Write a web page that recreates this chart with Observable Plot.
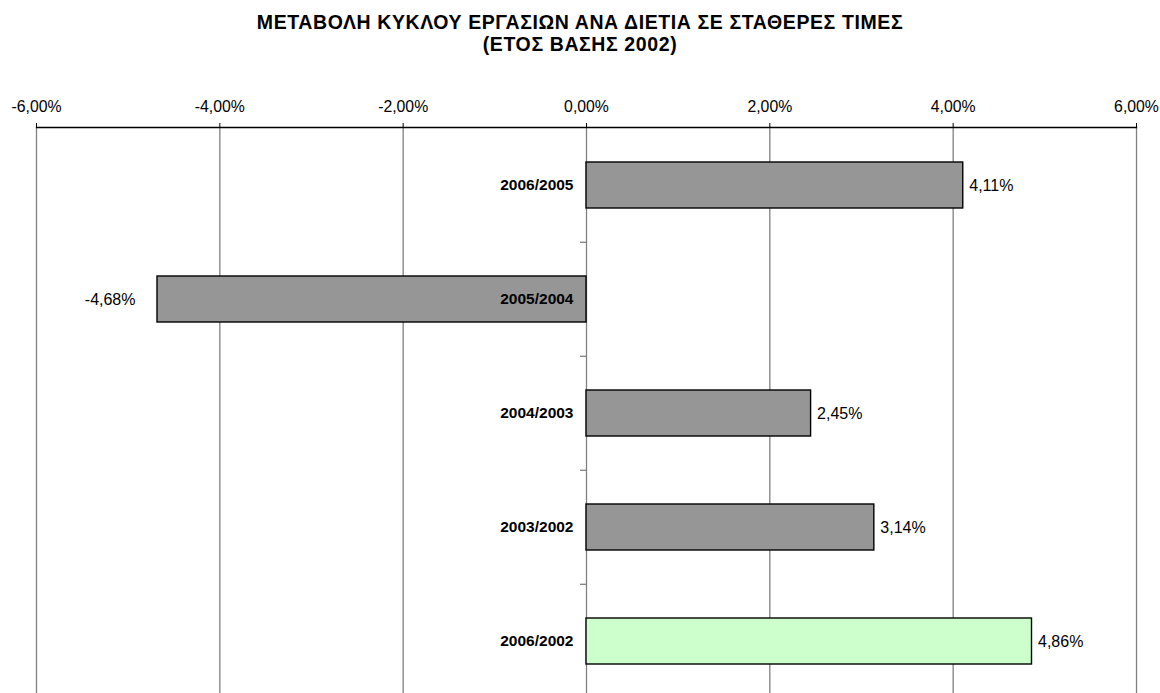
<!DOCTYPE html>
<html>
<head>
<meta charset="utf-8">
<script src="https://cdn.jsdelivr.net/npm/d3@7"></script>
<script src="https://cdn.jsdelivr.net/npm/@observablehq/plot@0.6"></script>
<style>
  body { margin: 0; background: #fff; font-family: "Liberation Sans", Arial, sans-serif; }
  #title { width: 1160px; height: 60px; box-sizing: border-box; padding-top: 11px; text-align: center;
           font-weight: bold; font-size: 19.5px; letter-spacing: 0.6px; line-height: 22px; color: #000; }
</style>
</head>
<body>
<div id="title">ΜΕΤΑΒΟΛΗ ΚΥΚΛΟΥ ΕΡΓΑΣΙΩΝ ΑΝΑ ΔΙΕΤΙΑ ΣΕ ΣΤΑΘΕΡΕΣ ΤΙΜΕΣ<br>(ΕΤΟΣ ΒΑΣΗΣ 2002)</div>
<div id="chart"></div>
<script>
const categories = ["2006/2005", "2005/2004", "2004/2003", "2003/2002", "2006/2002"];
const values = [4.11, -4.68, 2.45, 3.14, 4.86];
const fills = ["#969696", "#969696", "#969696", "#969696", "#ccffcc"];
const xTicks = [-6, -4, -2, 0, 2, 4, 6];

const data = categories.map((c, i) => ({category: c, value: values[i], fill: fills[i]}));
const fmt = v => v.toFixed(2).replace(".", ",") + "%";

const H = 640, MT = 67, MB = 1;
const padIn = 0.6, padOut = 0.3;
const step = (H - MT - MB) / (categories.length - padIn + 2 * padOut);

const chart = Plot.plot({
  width: 1160,
  height: H,
  marginTop: MT,
  marginBottom: MB,
  marginLeft: 36,
  marginRight: 24,
  style: {fontFamily: "'Liberation Sans', Arial, sans-serif", fontSize: "15.5px", color: "black", background: "white", overflow: "visible"},
  x: {domain: [-6, 6], label: null},
  y: {domain: categories, paddingInner: padIn, paddingOuter: padOut, axis: null},
  color: {type: "identity"},
  marks: [
    Plot.ruleX(xTicks, {stroke: "#808080", strokeWidth: 1.3}),
    Plot.axisX(xTicks, {anchor: "top", label: null, tickSize: 5, tickPadding: 11, tickFormat: fmt, stroke: "black", fontSize: 15.8}),
    Plot.frame({anchor: "top", stroke: "black", strokeWidth: 1.3}),
    Plot.ruleY(categories.slice(1), {x1: 0, x2: -0.065, dy: -step / 2, stroke: "#808080", strokeWidth: 1.3}),
    Plot.barX(data, {x: "value", y: "category", fill: "fill", stroke: "black", strokeWidth: 1.4}),
    Plot.text(data, {x: 0, y: "category", text: "category", textAnchor: "end", dx: -13, fontWeight: "bold", fontSize: 15.5}),
    Plot.text(data.filter(d => d.value >= 0), {x: "value", y: "category", text: d => fmt(d.value), textAnchor: "start", dx: 6, fontSize: 16}),
    Plot.text(data.filter(d => d.value < 0), {x: "value", y: "category", text: d => fmt(d.value), textAnchor: "end", dx: -22, fontSize: 16})
  ]
});
document.getElementById("chart").appendChild(chart);
</script>
</body>
</html>
